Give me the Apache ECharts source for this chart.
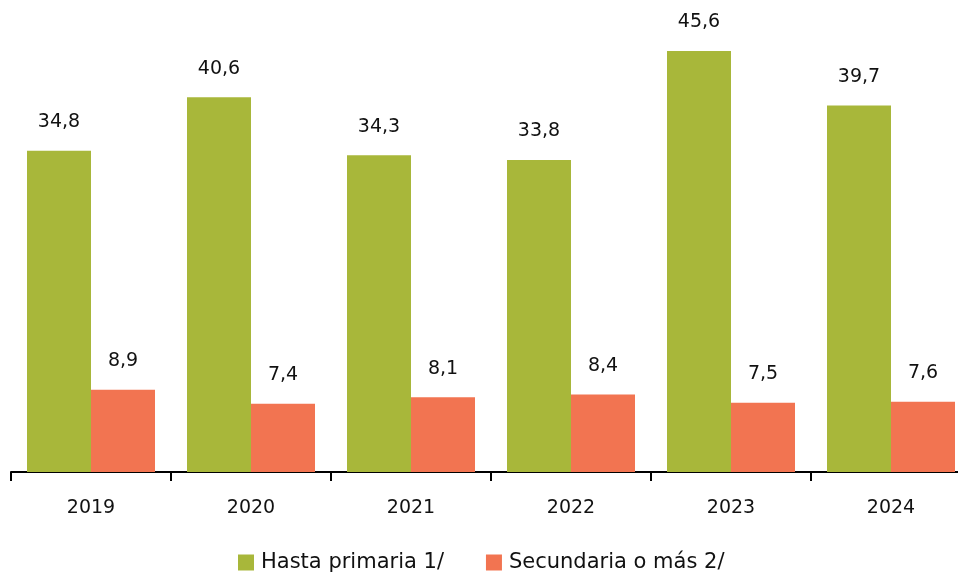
<!DOCTYPE html>
<html><head><meta charset="utf-8">
<script src="https://cdn.jsdelivr.net/npm/echarts@6/dist/echarts.min.js"></script>
<style>html,body{margin:0;padding:0;background:#fff}#c{width:958px;height:576px}</style>
</head><body><div id="c"></div>
<script>
const categories = ['2019','2020','2021','2022','2023','2024'];
const hastaPrimaria = [34.8, 40.6, 34.3, 33.8, 45.6, 39.7];
const secundaria = [8.9, 7.4, 8.1, 8.4, 7.5, 7.6];
const seriesNames = ['Hasta primaria 1/', 'Secundaria o más 2/'];

const FONT = 'DejaVu Sans';
const fmt = p => String(p.value.toFixed(1)).replace('.', ',');
const chart = echarts.init(document.getElementById('c'));
chart.setOption({
  animation: false,
  textStyle: { fontFamily: FONT },
  grid: { left: 11, width: 960, top: 10.4, bottom: 104, containLabel: false, outerBoundsMode: 'none' },
  legend: {
    top: 552, left: 238, padding: 0, itemWidth: 16, itemHeight: 16, itemGap: 42,
    icon: 'rect',
    textStyle: { fontFamily: FONT, fontSize: 21, color: '#111', padding: [0, 0, 0, 2] },
    data: seriesNames
  },
  xAxis: {
    type: 'category', data: categories,
    axisLine: { show: true, lineStyle: { color: '#000', width: 2 } },
    axisTick: { show: true, lineStyle: { color: '#000', width: 2 }, length: 9 },
    axisLabel: { fontFamily: FONT, fontSize: 19, color: '#111', margin: 27 }
  },
  yAxis: { type: 'value', min: 0, max: 50, show: false, splitLine: { show: false } },
  series: [
    { name: seriesNames[0], type: 'bar', data: hastaPrimaria, barGap: '0%', barCategoryGap: '20%',
      itemStyle: { color: '#A8B73A' },
      label: { show: true, position: 'top', distance: 19, formatter: fmt, fontFamily: FONT, fontSize: 19, color: '#111' } },
    { name: seriesNames[1], type: 'bar', data: secundaria, barGap: '0%', barCategoryGap: '20%',
      itemStyle: { color: '#F27451' },
      label: { show: true, position: 'top', distance: 19, formatter: fmt, fontFamily: FONT, fontSize: 19, color: '#111' } }
  ]
});
</script></body></html>
